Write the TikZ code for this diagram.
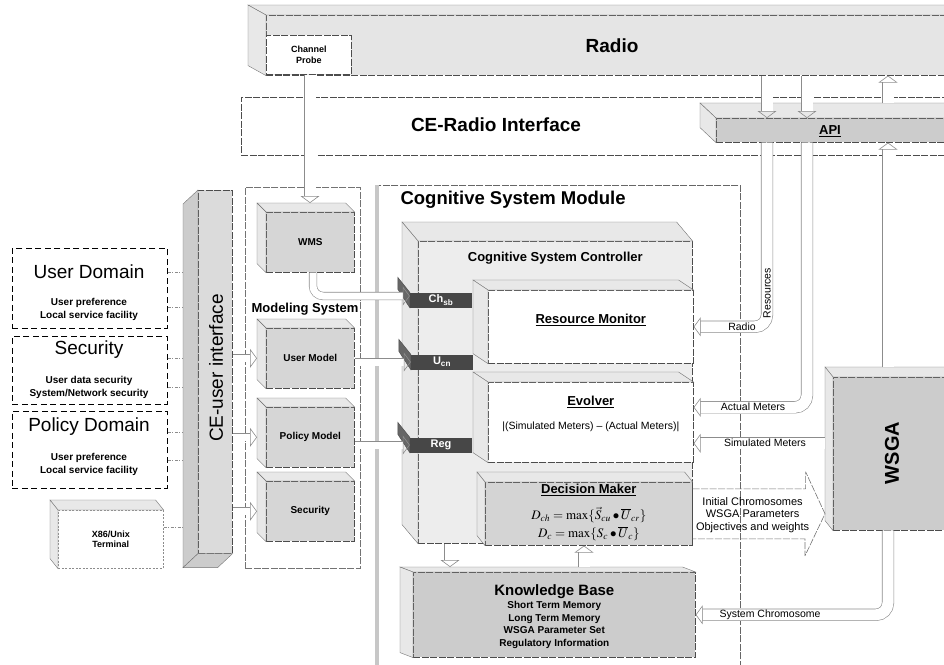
\documentclass[tikz,border=0pt]{standalone}
\usepackage{mathptmx}
\usepackage{fontspec}
\setmainfont{Liberation Sans}
\usetikzlibrary{arrows.meta, positioning, calc}

% 3D look: top and left side faces of a block, offset up-left by dx, dy
\newcommand{\boxbevel}[3]{%
  \filldraw[bevelside] (#1.north west) -- ++(-#2,-#3) -- ($(#1.north east)+(-#2,-#3)$) -- (#1.north east) -- cycle;
  \filldraw[bevelside] (#1.north west) -- ++(-#2,-#3) -- ($(#1.south west)+(-#2,-#3)$) -- (#1.south west) -- cycle;}

\begin{document}
\begin{tikzpicture}[
    x=1pt, y=-1pt,
    font=\fontsize{10}{12}\selectfont,
    frame/.style={draw=black!70, dash pattern=on 7pt off 1.5pt, line width=0.6pt},
    block/.style={frame, fill=black!16, anchor=north west, inner sep=0pt},
    plain/.style={frame, fill=white, anchor=north west, inner sep=0pt},
    bevelside/.style={fill=black!9, draw=black!55, line width=0.4pt},
    tab/.style={fill=black!72, text=white, font=\bfseries\fontsize{11}{13}\selectfont,
      minimum width=62pt, minimum height=15pt, inner sep=0pt},
    pipe/.style={draw=black!45, double=white, double distance=11pt, line width=0.6pt},
    thinpipe/.style={pipe, double distance=7pt},
    head/.style={-{Triangle[open, length=7pt, width=19pt]}},
    domainbox/.style={draw, line width=0.9pt, dash pattern=on 6pt off 3.5pt,
      anchor=north west, minimum width=155pt, inner sep=0pt},
    stub/.style={draw=black!45, dash pattern=on 3pt off 1.5pt on 1pt off 1.5pt, line width=0.6pt},
    bigtitle/.style={font=\bfseries\fontsize{19}{22}\selectfont},
    boxtitle/.style={font=\bfseries\fontsize{13}{15}\selectfont, inner sep=1pt},
    modtext/.style={font=\bfseries\fontsize{10}{12}\selectfont},
    pipetext/.style={font=\fontsize{10.5}{12}\selectfont, inner sep=1pt},
    domhead/.style={font=\fontsize{19}{22}\selectfont},
    domsub/.style={font=\bfseries\fontsize{10}{13}\selectfont, align=center}
  ]

  \useasboundingbox (0,0) rectangle (944,664);

  % ==================== RADIO SIDE ====================

  \node[block, fill=black!10, minimum width=710pt, minimum height=60pt] (Radio) at (266,15) {};
  \boxbevel{Radio}{18}{10}
  \node[bigtitle] (RadioText) at (612,46) {Radio};
  \node[plain, minimum width=85pt, minimum height=39pt, align=center,
    font=\bfseries\fontsize{9}{11}\selectfont] (ChannelProbe) at (266,35) {Channel\\Probe};

  \node[plain, minimum width=720pt, minimum height=58pt] (CERadio) at (241,97) {};
  \node[bigtitle] (CERadioText) at (496,125) {CE-Radio Interface};

  \node[block, fill=black!20, minimum width=250pt, minimum height=24pt] (API) at (716,118) {};
  \boxbevel{API}{16}{15}
  \node[font=\bfseries\fontsize{13}{15}\selectfont] (APIText) at (830,131) {\underline{API}};

  % ==================== USER SIDE ====================

  \node[domainbox, minimum height=80pt] (UserDomain) at (12,248) {};
  \node[domainbox, minimum height=68pt] (SecurityDomain) at (12,336) {};
  \node[domainbox, minimum height=77pt] (PolicyDomain) at (12,411) {};

  \node[domhead] (UserDomainText) at (89,272) {User Domain};
  \node[domsub] (UserDomainSub) at (89,309.5) {User preference\\Local service facility};
  \node[domhead] (SecurityDomainText) at (89,350) {Security};
  \node[domsub] (SecurityDomainSub) at (89,387) {User data security\\System/Network security};
  \node[domhead] (PolicyDomainText) at (89,427) {Policy Domain};
  \node[domsub] (PolicyDomainSub) at (89,464) {User preference\\Local service facility};

  \node[plain, draw=black!45, dash pattern=on 2pt off 1.5pt, minimum width=105pt, minimum height=58pt,
    align=center, font=\bfseries\fontsize{9}{10.5}\selectfont] (Terminal) at (58,510) {X86/Unix\\Terminal};
  \boxbevel{Terminal}{8}{10}

  % the interface bar has its depth down-left
  \node[block, fill=black!14, minimum width=34pt, minimum height=363pt] (CEUser) at (198,190) {};
  \filldraw[bevelside, fill=black!20] (CEUser.north west) -- ++(-15,14)
    -- ($(CEUser.south west)+(-15,14)$) -- (CEUser.south west) -- cycle;
  \filldraw[bevelside, fill=black!20] (CEUser.south west) -- ++(-15,14)
    -- ($(CEUser.south east)+(-15,14)$) -- (CEUser.south east) -- cycle;
  \node[domhead, rotate=90] (CEUserText) at (216,368) {CE-user interface};
  \coordinate (CEUserEdge) at ($(CEUser.west)+(-15,0)$);

  \foreach \dom/\yy in {UserDomain/272, UserDomain/307, SecurityDomain/358, SecurityDomain/387,
      PolicyDomain/432, PolicyDomain/460, Terminal/527} {
    \draw[stub] (\dom.east |- 0,\yy) -- (CEUserEdge |- 0,\yy);
  }

  % ==================== MODELING SYSTEM ====================

  \node[frame, draw=black!55, anchor=north west, minimum width=115pt, minimum height=381pt,
    inner sep=0pt] (Modeling) at (245,187) {};
  \node[boxtitle] (ModelingText) at (305,309) {Modeling System};

  \node[block, minimum width=88pt, minimum height=60pt, modtext] (WMS) at (266,212) {WMS};
  \node[block, minimum width=88pt, minimum height=60pt, modtext] (UserModel) at (266,328) {User Model};
  \node[block, minimum width=88pt, minimum height=60pt, modtext] (PolicyModel) at (266,407) {Policy Model};
  \node[block, minimum width=88pt, minimum height=60pt, modtext] (SecurityModel) at (266,481) {Security};
  \foreach \m in {WMS, UserModel, PolicyModel, SecurityModel} {
    \boxbevel{\m}{9}{9}
  }

  % ==================== COGNITIVE SYSTEM MODULE ====================

  \node[frame, draw=black!60, anchor=north west, minimum width=365pt, minimum height=500pt,
    inner sep=0pt] (CSM) at (375,185) {};
  \draw[black!22, line width=4pt] ([xshift=2pt]CSM.north west) -- ([xshift=2pt]CSM.south west);
  \node[font=\bfseries\fontsize{18.5}{22}\selectfont, anchor=west] (CSMText) at (397,200) {Cognitive System Module};

  \node[block, fill=black!7, minimum width=274pt, minimum height=302pt] (CSC) at (418,241) {};
  \boxbevel{CSC}{16}{19}
  \node[boxtitle] (CSCText) [below=10pt of CSC.north] {Cognitive System Controller};

  \node[tab] (Chsb) at (441,300) {Ch\textsubscript{sb}};
  \node[tab] (Ucn) at (442,362) {U\textsubscript{cn}};
  \node[tab] (Reg) at (441,445) {Reg};
  \foreach \t in {Chsb, Ucn, Reg} {
    \filldraw[fill=black!60, draw=black!70] (\t.north west) -- ++(-12,-15) -- ++(0,12) -- (\t.south west) -- cycle;
  }

  \node[plain, minimum width=205pt, minimum height=73pt] (ResourceMonitor) at (488,290) {};
  \boxbevel{ResourceMonitor}{15}{10}
  \node[boxtitle] (ResourceMonitorText) at ($(ResourceMonitor.north)+(0,30)$) {\underline{Resource Monitor}};

  \node[plain, minimum width=205pt, minimum height=80pt] (Evolver) at (488,382) {};
  \boxbevel{Evolver}{15}{10}
  \node[boxtitle] (EvolverText) at ($(Evolver.north)+(0,20)$) {\underline{Evolver}};
  \node[font=\fontsize{10.5}{12}\selectfont] (EvolverRule) at ($(Evolver.north)+(0,45)$)
    {|(Simulated Meters) -- (Actual Meters)|};

  \node[block, fill=black!17, minimum width=207pt, minimum height=63pt] (DecisionMaker) at (485,482) {};
  \boxbevel{DecisionMaker}{8}{10}
  \node[boxtitle] (DecisionMakerText) at ($(DecisionMaker.north)+(0,8)$) {\underline{Decision Maker}};
  \node[font=\fontsize{13}{18}\selectfont, align=center, inner sep=0pt] (DecisionRule)
    at ($(DecisionMaker.north)+(0,42)$)
    {$D_{ch}=\max\{\vec{S}_{cu}\bullet\overline{U}_{cr}\}$\\$D_{c}=\max\{S_{c}\bullet\overline{U}_{c}\}$};

  \node[block, fill=black!20, minimum width=282pt, minimum height=85pt] (KnowledgeBase) at (413,572) {};
  \boxbevel{KnowledgeBase}{13}{5}
  \node[font=\bfseries\fontsize{15}{17}\selectfont, inner sep=1pt] (KnowledgeBaseText)
    at ($(KnowledgeBase.north)+(0,20)$) {Knowledge Base};
  \node[font=\bfseries\fontsize{10}{12.6}\selectfont, align=center, inner sep=1pt] (KnowledgeBaseSub)
    at ($(KnowledgeBase.north)+(0,53)$)
    {Short Term Memory\\Long Term Memory\\WSGA Parameter Set\\Regulatory Information};

  % ==================== WSGA ====================

  \node[block, fill=black!20, minimum width=130pt, minimum height=153pt] (WSGA) at (833,377) {};
  \boxbevel{WSGA}{8}{10}
  \node[font=\bfseries\fontsize{20}{24}\selectfont, rotate=90] (WSGAText) at (892,453) {WSGA};

  % ==================== CONNECTORS ====================

  \coordinate (ProbeCol) at (310,0);
  \coordinate (WMSCol) at (313,0);
  \coordinate (ResCol) at (767,0);
  \coordinate (ActCol) at (807,0);
  \coordinate (WsgaCol) at (888,0);
  \coordinate (CtrlCol) at (450,0);
  \coordinate (KnowCol) at (584,0);

  \draw[pipe, head] (ProbeCol |- ChannelProbe.south) -- ($(ProbeCol |- WMS.north)+(0,-9)$);
  \coordinate (ChsbIn) at ($(Chsb.west)+(0,-4)$);
  \draw[thinpipe, head, rounded corners=10pt] (WMSCol |- WMS.south) |- (ChsbIn);
  \draw[thinpipe, head] (UserModel.east |- Ucn.west) -- (Ucn.west);
  \draw[thinpipe, head] (PolicyModel.east |- Reg.west) -- (Reg.west);
  \foreach \m in {UserModel, PolicyModel, SecurityModel} {
    \draw[thinpipe, head] (CEUser.east |- \m.west) -- ($(\m.west)+(-9,0)$);
  }

  \draw[pipe, head] (ResCol |- Radio.south) -- (ResCol |- API.north);
  \draw[pipe, head] (ActCol |- Radio.south) -- (ActCol |- API.north);
  \draw[pipe, head, rounded corners=12pt] (ResCol |- API.south) |- (ResourceMonitor.east);
  \coordinate (ActualIn) at ($(Evolver.east)+(0,-15)$);
  \draw[pipe, head, rounded corners=12pt] (ActCol |- API.south) |- (ActualIn);
  \coordinate (SimIn) at ($(Evolver.east)+(0,21)$);
  \draw[pipe, head] ($(SimIn -| WSGA.west)+(-8,0)$) -- (SimIn);
  \draw[pipe, head] ($(WsgaCol |- WSGA.north)+(0,-10)$) -- (WsgaCol |- API.south);
  \draw[pipe, head] ($(WsgaCol |- API.north)+(0,-15)$) -- (WsgaCol |- Radio.south);
  \draw[pipe, head, rounded corners=12pt] (WsgaCol |- WSGA.south) |- (KnowledgeBase.east);

  \draw[pipe, head] (CtrlCol |- CSC.south) -- ($(CtrlCol |- KnowledgeBase.north)+(0,-5)$);
  \draw[pipe, head] ($(KnowCol |- KnowledgeBase.north)+(0,-5)$) -- (KnowCol |- DecisionMaker.south);

  \coordinate (InitTip) at ($(WSGA.west |- DecisionMaker.east)+(-8,0)$);
  \draw[frame, draw=black!55, line join=round] ($(DecisionMaker.east)+(0,-25)$) -- ++(113,0) -- ++(0,-17)
    -- (InitTip) -- ++(-20,42) -- ++(0,-17) -- ($(DecisionMaker.east)+(0,25)$);
  \node[align=center, font=\fontsize{11}{12.5}\selectfont] (InitText) at ($(DecisionMaker.east)+(60,1)$)
    {Initial Chromosomes\\WSGA Parameters\\Objectives and weights};

  \node[pipetext, rotate=90] (ResourcesText) at (767,293) {Resources};
  \node[pipetext] (RadioPipeText) at (742,327) {Radio};
  \node[pipetext] (ActualText) at (753,407) {Actual Meters};
  \node[pipetext] (SimText) at (765,443) {Simulated Meters};
  \node[pipetext] (SysText) at (770,615) {System Chromosome};

\end{tikzpicture}
\end{document}
